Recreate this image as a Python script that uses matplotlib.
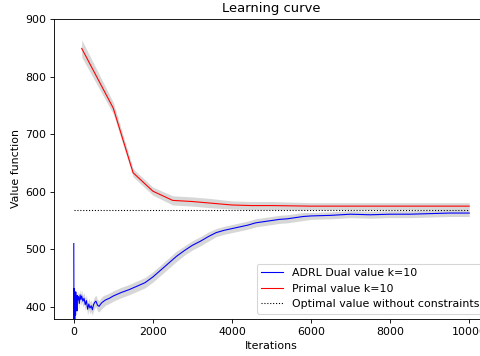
import matplotlib
matplotlib.use('Agg')
import matplotlib.pyplot as plt
import numpy as np

# dual value (ADRL)
dual_iters = [0, 5, 10, 15, 20, 25, 30, 35, 40, 45, 50, 60, 70, 80, 90, 100,
              120, 140, 160, 180, 200, 230, 260, 290, 320, 350, 380, 410,
              440, 470, 500, 530, 560, 600, 640, 680, 720, 760, 800, 900,
              1000, 1200, 1400, 1600, 1800, 2000, 2200, 2400, 2600, 2800,
              3000, 3200, 3400, 3600, 3800, 4000, 4200, 4400, 4600, 4800,
              5000, 5200, 5400, 5600, 5800, 6000, 6500, 7000, 7500, 8000,
              8500, 9000, 9500, 10000]
dual_vals = [510, 376, 432, 398, 428, 372, 422, 395, 418, 386, 426, 402, 414, 393, 420, 412,
             418, 406, 421, 413, 419, 410, 415, 404, 411, 396, 405, 398,
             402, 395, 404, 408, 410, 403, 401, 405, 408, 410, 412, 415,
             419, 425, 430, 436, 442, 452, 464, 476, 488, 498,
             507, 514, 522, 529, 533, 536, 539, 542, 546, 548,
             550, 552, 553, 555, 557, 558, 559, 561, 560, 561,
             561, 562, 563, 563]
dual_std = [5, 10, 10, 10, 10, 10, 10, 10, 10, 10, 10, 10, 10, 10, 10, 10,
            10, 10, 10, 10, 10, 10, 10, 10, 10, 10, 10, 10,
            10, 10, 10, 10, 10, 10, 10, 10, 10, 10, 9, 9,
            9, 9, 9, 9, 9, 9, 9, 9, 9, 8,
            8, 8, 8, 7, 7, 7, 7, 7, 7, 7,
            7, 7, 7, 7, 7, 6, 6, 6, 6, 6,
            6, 6, 6, 6]

# primal value
primal_iters = [200, 1000, 1500, 2000, 2500, 3000, 3500, 4000, 4500, 5000,
                6000, 7000, 8000, 9000, 10000]
primal_vals = [849, 745, 633, 601, 585, 583, 580, 577, 576, 576,
               575, 575, 575, 575, 575]
primal_std = [15, 10, 7, 7, 8, 8, 8, 7, 7, 7, 6, 6, 6, 6, 6]

optimal_value = 568

DPI = 79
fig = plt.figure(figsize=(481 / DPI, 356 / DPI), dpi=DPI)
ax = fig.add_axes([54 / 481, 37 / 356, 435 / 481, 300 / 356])

dx = np.array(dual_iters)
dv = np.array(dual_vals)
ds = np.array(dual_std)
px = np.array(primal_iters)
pv = np.array(primal_vals)
ps = np.array(primal_std)

ax.fill_between(dx, dv - ds, dv + ds, color='lightgray', alpha=0.9, linewidth=0)
ax.fill_between(px, pv - ps, pv + ps, color='lightgray', alpha=0.9, linewidth=0)
ax.plot(dx, dv, color='b', linewidth=1, label='ADRL Dual value k=10')
ax.plot(px, pv, color='r', linewidth=1, label='Primal value k=10')
ax.plot([0, 10000], [optimal_value, optimal_value], 'k:', linewidth=1,
        label='Optimal value without constraints')

ax.set_xlim(-500, 10500)
ax.set_ylim(379, 900)
ax.set_xticks([0, 2000, 4000, 6000, 8000, 10000])
ax.set_yticks([400, 500, 600, 700, 800, 900])
ax.set_title('Learning curve')
ax.set_xlabel('Iterations')
ax.set_ylabel('Value function')
ax.legend(loc='lower right')

fig.savefig('out.png', dpi=DPI)
plt.close()
